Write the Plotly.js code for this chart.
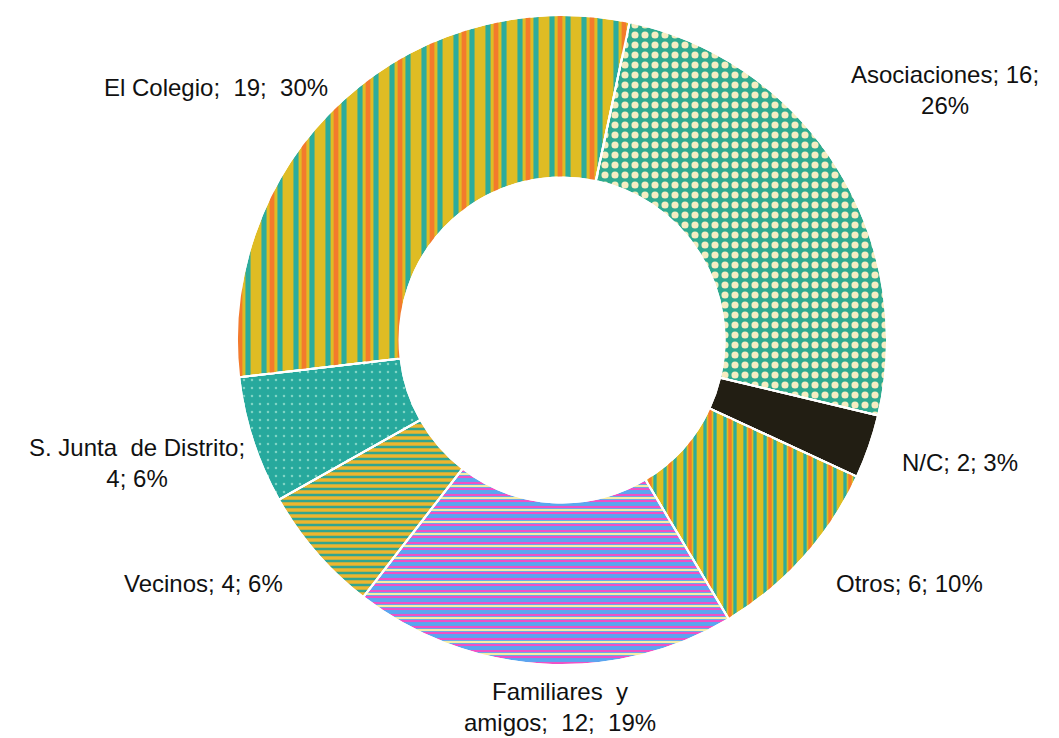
<!DOCTYPE html>
<html>
<head>
<meta charset="utf-8">
<script src="https://cdn.plot.ly/plotly-3.0.1.min.js"></script>
<style>
html,body{margin:0;padding:0;background:#fff;}
#chart{width:1059px;height:738px;}
</style>
</head>
<body>
<div id="chart"></div>
<script>
const categories = ["Asociaciones", "N/C", "Otros", "Familiares y amigos", "Vecinos", "S. Junta de Distrito", "El Colegio"];
const counts = [16, 2, 6, 12, 4, 4, 19];
const percents = ["26%", "3%", "10%", "19%", "6%", "6%", "30%"];
const labelText = [
  "Asociaciones; 16;<br>26%",
  "N/C; 2; 3%",
  "Otros; 6; 10%",
  "Familiares&nbsp; y<br>amigos;&nbsp; 12;&nbsp; 19%",
  "Vecinos; 4; 6%",
  "S. Junta&nbsp; de Distrito;<br>4; 6%",
  "El Colegio;&nbsp; 19;&nbsp; 30%"
];
// label anchor positions (paper fraction of the plot area)
const labelX = [1.089, 1.112, 1.034, 0.497, -0.052, -0.154, -0.032];
const labelY = [0.885, 0.312, 0.126, -0.065, 0.126, 0.311, 0.888];

const sliceColors = ["#2EAB8F", "#221E13", "#DDBD22", "#5AA6F0", "#EDB62E", "#27A99D", "#DFBC24"];

const common = {
  type: "pie",
  labels: categories,
  values: counts,
  hole: 0.5,
  sort: false,
  direction: "clockwise",
  rotation: 12,
  showlegend: false,
  textinfo: "none",
  hoverinfo: "skip"
};

const base = Object.assign({}, common, {
  marker: {
    colors: sliceColors,
    line: {color: "#ffffff", width: 2},
    pattern: {
      shape: [".", "", "|", "-", "-", ".", "|"],
      bgcolor: sliceColors,
      fgcolor: ["#F6EDC2", "#221E13", "#2CAC9C", "#EE52C6", "#33A58E", "#7ED3C4", "#2CAC9C"],
      fgopacity: 1,
      size: [10, 8, 10, 6, 6, 8, 16],
      solidity: [0.4, 0.3, 0.33, 0.35, 0.42, 0.08, 0.32]
    }
  }
});

const overlay = Object.assign({}, common, {
  marker: {
    colors: categories.map(() => "rgba(0,0,0,0)"),
    line: {color: "#ffffff", width: 2},
    pattern: {
      shape: ["", "", "|", "-", "", "", "|"],
      bgcolor: categories.map(() => "rgba(0,0,0,0)"),
      fgcolor: ["#000", "#000", "#F37A2C", "#F6EEA6", "#000", "#000", "#F37A2C"],
      fgopacity: 1,
      size: [8, 8, 20, 12, 8, 8, 32],
      solidity: [0.3, 0.3, 0.17, 0.18, 0.3, 0.3, 0.15]
    }
  }
});

const annotations = labelText.map((t, i) => ({
  text: t,
  x: labelX[i],
  y: labelY[i],
  xref: "paper",
  yref: "paper",
  xanchor: "center",
  yanchor: "middle",
  align: "center",
  showarrow: false,
  font: {family: "Liberation Sans, Arial, sans-serif", size: 24, color: "#111111"}
}));

const layout = {
  width: 1059,
  height: 738,
  margin: {l: 237, r: 172, t: 15, b: 73},
  paper_bgcolor: "#ffffff",
  plot_bgcolor: "#ffffff",
  showlegend: false,
  annotations: annotations
};

Plotly.newPlot("chart", [base, overlay], layout, {displayModeBar: false, staticPlot: true});
</script>
</body>
</html>
